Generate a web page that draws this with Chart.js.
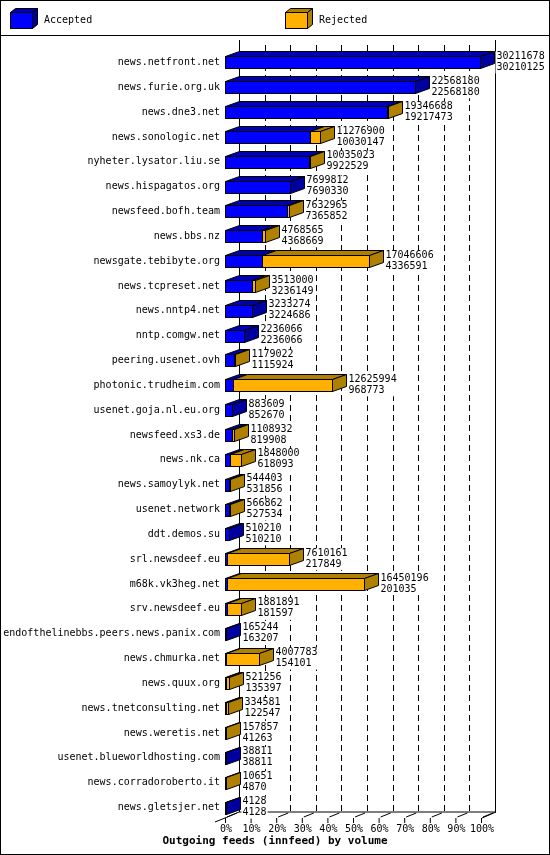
<!DOCTYPE html>
<html><head><meta charset="utf-8">
<script src="https://cdn.jsdelivr.net/npm/chart.js@4"></script>
<style>html,body{margin:0;padding:0;background:#fff}canvas{display:block}</style>
</head><body>
<div style="width:550px;height:855px"><canvas id="c" width="550" height="855"></canvas></div>
<script>
const categories=["news.netfront.net","news.furie.org.uk","news.dne3.net","news.sonologic.net","nyheter.lysator.liu.se","news.hispagatos.org","newsfeed.bofh.team","news.bbs.nz","newsgate.tebibyte.org","news.tcpreset.net","news.nntp4.net","nntp.comgw.net","peering.usenet.ovh","photonic.trudheim.com","usenet.goja.nl.eu.org","newsfeed.xs3.de","news.nk.ca","news.samoylyk.net","usenet.network","ddt.demos.su","srl.newsdeef.eu","m68k.vk3heg.net","srv.newsdeef.eu","endofthelinebbs.peers.news.panix.com","news.chmurka.net","news.quux.org","news.tnetconsulting.net","news.weretis.net","usenet.blueworldhosting.com","news.corradoroberto.it","news.gletsjer.net"];
const offered=[30211678,22568180,19346688,11276900,10035023,7699812,7632965,4768565,17046606,3513000,3233274,2236066,1179022,12625994,883609,1108932,1848000,544403,566862,510210,7610161,16450196,1881891,165244,4007783,521256,334581,157857,38811,10651,4128];
const accepted=[30210125,22568180,19217473,10030147,9922529,7690330,7365852,4368669,4336591,3236149,3224686,2236066,1115924,968773,852670,819908,618093,531856,527534,510210,217849,201035,181597,163207,154101,135397,122547,41263,38811,4870,4128];
const rejected=offered.map((v,i)=>v-accepted[i]);
const tickLabels=["0%","10%","20%","30%","40%","50%","60%","70%","80%","90%","100%"];
const DX=14,DY=5;
const FONT='10px "DejaVu Sans Mono"';
const face={blue:["#0000ff","#0000b0","#0000a0"],orange:["#ffb000","#b08000","#b08000"]};
function poly(ctx,pts,fill){ctx.beginPath();ctx.moveTo(pts[0][0],pts[0][1]);for(const p of pts.slice(1))ctx.lineTo(p[0],p[1]);ctx.closePath();ctx.fillStyle=fill;ctx.fill();ctx.stroke();}
const deco={id:'deco',
beforeDatasetsDraw(ch){const c=ch.ctx;c.save();c.strokeStyle='#000';c.lineWidth=1;
 c.strokeRect(0.5,0.5,549,854);c.beginPath();c.moveTo(0,35.5);c.lineTo(550,35.5);c.stroke();
 [[10,'blue','Accepted'],[285,'orange','Rejected']].forEach(([x,k,t])=>{const y=12;const w=22,h=16;
  poly(c,[[x+.5,y+.5],[x+5.5,y-3.5],[x+w+5.5,y-3.5],[x+w+.5,y+.5]],face[k][1]);
  poly(c,[[x+w+.5,y+.5],[x+w+5.5,y-3.5],[x+w+5.5,y+h-3.5],[x+w+.5,y+h+.5]],face[k][2]);
  c.fillStyle=face[k][0];c.fillRect(x+.5,y+.5,w,h);c.strokeRect(x+.5,y+.5,w,h);
  c.fillStyle='#000';c.font=FONT;c.textBaseline='middle';c.fillText(t,x+34,y+8);});
 const floorY=818, fx=225, bx=239, sp=25.6;
 c.beginPath();c.moveTo(bx+.5,40);c.lineTo(bx+.5,floorY-6);c.moveTo(495.5,40);c.lineTo(495.5,floorY-6);c.stroke();
 c.setLineDash([6,4]);c.beginPath();
 for(let i=1;i<10;i++){const x=Math.round(bx+sp*i)+.5;c.moveTo(x,45);c.lineTo(x,floorY-6);}c.stroke();c.setLineDash([]);
 c.beginPath();c.moveTo(215,floorY+4);c.lineTo(fx,floorY);c.lineTo(bx,floorY-6);c.lineTo(496,floorY-6);c.lineTo(482,floorY);c.stroke();
 c.font=FONT;c.textAlign='center';c.textBaseline='top';c.fillStyle='#000';
 tickLabels.forEach((t,i)=>{const x=fx+sp*i;c.beginPath();c.moveTo(x+.5,floorY);c.lineTo(x+.5,floorY+5);c.moveTo(x+2,floorY-1);c.lineTo(x+12,floorY-5);c.stroke();c.fillText(t,x+1,floorY+6);});
 c.font='bold 11px "DejaVu Sans Mono"';c.fillText('Outgoing feeds (innfeed) by volume',275,836);
 c.restore();},
afterDatasetsDraw(ch){const c=ch.ctx;c.save();c.strokeStyle='#000';c.lineWidth=1;
 const x=ch.scales.x,y=ch.scales.y;
 categories.forEach((lab,i)=>{const yc=y.getPixelForValue(i);const t=Math.round(yc-6)+.5,b=t+12;
  const x0=Math.round(x.getPixelForValue(0))+.5,x1=Math.round(x.getPixelForValue(accepted[i]))+.5,x2=Math.round(x.getPixelForValue(offered[i]))+.5;
  let segs=[];if(x1>x0)segs.push([x0,x1,'blue']);if(x2>x1)segs.push([x1,x2,'orange']);
  if(x2-x0<2)segs=[[x0,x0+1,rejected[i]>accepted[i]?'orange':'blue']];
  segs.forEach(([l,r,k])=>{poly(c,[[l,t],[l+DX,t-DY],[r+DX,t-DY],[r,t]],face[k][1]);c.fillStyle=face[k][0];c.fillRect(l,t,r-l,12);c.strokeRect(l,t,r-l,12);});
  const last=segs[segs.length-1];const r=last[1];
  poly(c,[[r,t],[r+DX,t-DY],[r+DX,b-DY],[r,b]],face[last[2]][2]);
  c.fillStyle='#000';c.font=FONT;c.textAlign='right';c.textBaseline='middle';c.fillText(lab,220,yc);
  c.textAlign='left';
  const s1=String(offered[i]),s2=String(accepted[i]);const w=Math.max(c.measureText(s1).width,c.measureText(s2).width);
  c.fillStyle='#fff';c.fillRect(r+DX+1,yc-11,w+2,22);c.fillStyle='#000';
  c.fillText(s1,r+DX+2,yc-6);c.fillText(s2,r+DX+2,yc+5);
 });c.restore();}};
new Chart(document.getElementById('c'),{type:'bar',
 data:{labels:categories,datasets:[{label:'Accepted',data:accepted,backgroundColor:'rgba(0,0,0,0)'},{label:'Rejected',data:rejected,backgroundColor:'rgba(0,0,0,0)'}]},
 options:{indexAxis:'y',responsive:false,animation:false,devicePixelRatio:1,
  layout:{padding:{left:225,right:69,top:50,bottom:35}},
  plugins:{legend:{display:false},tooltip:{enabled:false}},
  scales:{x:{stacked:true,display:false,min:0,max:30330000},y:{stacked:true,display:false}}},
 plugins:[deco]});
</script></body></html>
